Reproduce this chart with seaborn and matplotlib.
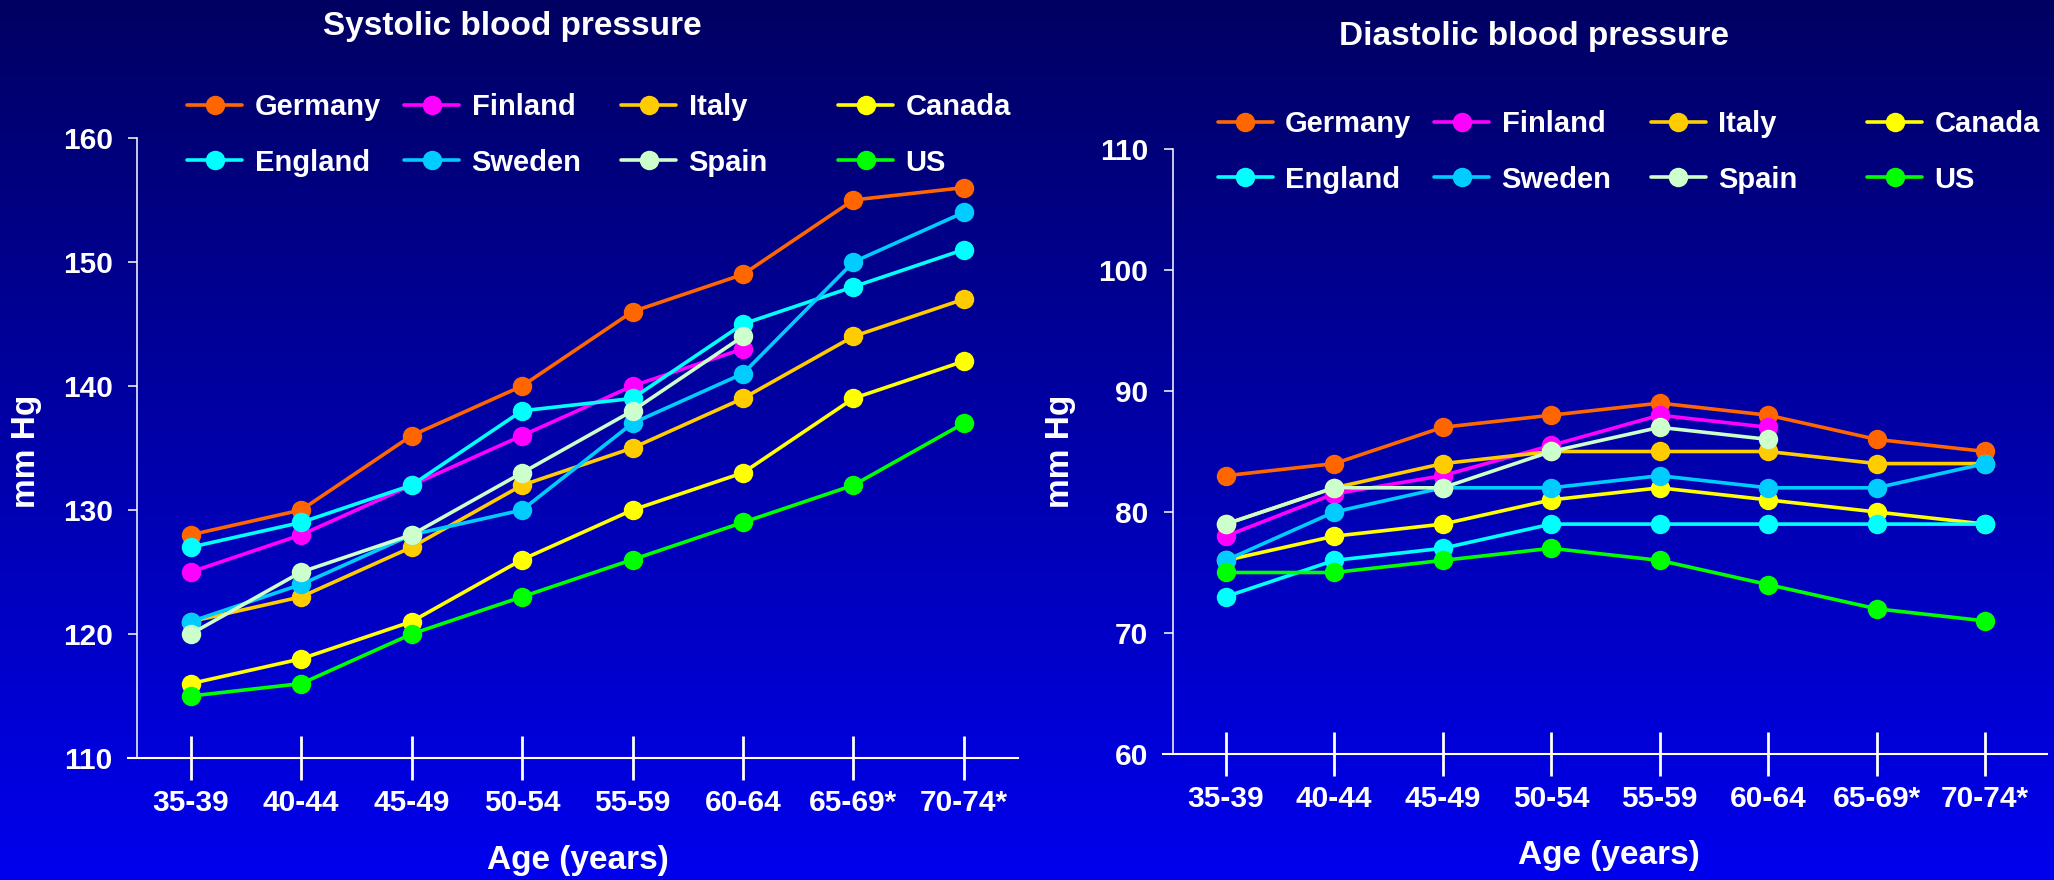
import numpy as np
import pandas as pd
import matplotlib
matplotlib.use("Agg")
import matplotlib.pyplot as plt
from matplotlib.colors import LinearSegmentedColormap
from matplotlib.lines import Line2D
import seaborn as sns

# ---------------------------------------------------------------- data
age_groups = ["35-39", "40-44", "45-49", "50-54", "55-59", "60-64", "65-69*", "70-74*"]
countries = ["Germany", "Finland", "Italy", "Canada", "England", "Sweden", "Spain", "US"]
country_colors = ["#FF6600", "#FF00FF", "#FFCC00", "#FFFF00",
                  "#00FFFF", "#00CCFF", "#CCFFCC", "#00FF00"]

# Systolic blood pressure (mm Hg); Finland and Spain stop at 60-64
sys_germany = [128, 130, 136, 140, 146, 149, 155, 156]
sys_finland = [125, 128, 132, 136, 140, 143]
sys_italy   = [121, 123, 127, 132, 135, 139, 144, 147]
sys_canada  = [116, 118, 121, 126, 130, 133, 139, 142]
sys_england = [127, 129, 132, 138, 139, 145, 148, 151]
sys_sweden  = [121, 124, 128, 130, 137, 141, 150, 154]
sys_spain   = [120, 125, 128, 133, 138, 144]
sys_us      = [115, 116, 120, 123, 126, 129, 132, 137]

# Diastolic blood pressure (mm Hg)
dia_germany = [83, 84, 87, 88, 89, 88, 86, 85]
dia_finland = [78, 81.5, 83, 85.5, 88, 87]
dia_italy   = [79, 82, 84, 85, 85, 85, 84, 84]
dia_canada  = [76, 78, 79, 81, 82, 81, 80, 79]
dia_england = [73, 76, 77, 79, 79, 79, 79, 79]
dia_sweden  = [76, 80, 82, 82, 83, 82, 82, 84]
dia_spain   = [79, 82, 82, 85, 87, 86]
dia_us      = [75, 75, 76, 77, 76, 74, 72, 71]

sys_ticks = [110, 120, 130, 140, 150, 160]
dia_ticks = [60, 70, 80, 90, 100, 110]

systolic = [sys_germany, sys_finland, sys_italy, sys_canada,
            sys_england, sys_sweden, sys_spain, sys_us]
diastolic = [dia_germany, dia_finland, dia_italy, dia_canada,
             dia_england, dia_sweden, dia_spain, dia_us]

# ---------------------------------------------------------------- style
sns.set_theme(style="ticks")
plt.rcParams["font.family"] = ["Liberation Sans", "DejaVu Sans"]
plt.rcParams["font.weight"] = "bold"
plt.rcParams["axes.labelweight"] = "bold"

W, H = 2054, 880
fig = plt.figure(figsize=(W / 100, H / 100), dpi=100)


def rect(left, top, right, bottom):
    return [left / W, 1 - bottom / H, (right - left) / W, (bottom - top) / H]


# vertical navy-to-blue backdrop
bg = fig.add_axes([0, 0, 1, 1], zorder=-10)
backdrop = LinearSegmentedColormap.from_list("backdrop", ["#000062", "#0000EE"])
bg.imshow(np.linspace(0, 1, 512).reshape(-1, 1), cmap=backdrop, aspect="auto",
          extent=[0, 1, 0, 1], origin="upper")
bg.set_axis_off()

LINE_W = 2.6
MARKER = 14
TICK_FS = 21.5
LEGEND_FS = 21


def long_frame(series):
    rows = []
    for country, vals in zip(countries, series):
        for age, v in zip(age_groups, vals):
            rows.append({"age": age, "mmHg": v, "country": country})
    return pd.DataFrame(rows)


def draw_panel(box, series, ylim, yticks, xlim, spine_x):
    ax = fig.add_axes(rect(*box))
    ax.set_facecolor("none")
    sns.lineplot(data=long_frame(series), x="age", y="mmHg", hue="country",
                 hue_order=countries, palette=country_colors, estimator=None,
                 errorbar=None, sort=False, marker="o", markersize=MARKER,
                 markeredgewidth=0, linewidth=LINE_W, legend=False, ax=ax)
    ax.set_xlim(*xlim)
    ax.set_ylim(*ylim)
    ax.set_yticks(yticks)
    ax.set_xlabel("")
    ax.set_ylabel("")
    for side in ("top", "right"):
        ax.spines[side].set_visible(False)
    ax.spines["left"].set_position(("data", spine_x))
    ax.spines["left"].set_color("white")
    ax.spines["left"].set_linewidth(1.1)
    ax.spines["bottom"].set_color("white")
    ax.spines["bottom"].set_linewidth(1.5)
    ax.tick_params(axis="y", direction="out", length=6.5, width=1.1,
                   colors="white", labelsize=TICK_FS, pad=11)
    ax.tick_params(axis="x", direction="inout", length=31, width=2,
                   colors="white", labelsize=TICK_FS, pad=7)
    for lab in ax.get_xticklabels() + ax.get_yticklabels():
        lab.set_fontweight("bold")
    return ax


ax_sys = draw_panel((128, 138, 1018, 758), systolic, (110, 160), sys_ticks,
                    (-0.568, 7.49), -0.486)
ax_dia = draw_panel((1163, 149, 2047, 754), diastolic, (60, 110), dia_ticks,
                    (-0.578, 7.57), -0.489)


def add_legend(first_line_x, col_step, center_y):
    # four columns of two rows: Germany/England, Finland/Sweden, Italy/Spain, Canada/US
    for col in range(4):
        idx = [col, col + 4]
        handles = [Line2D([], [], color=country_colors[i], lw=LINE_W, marker="o",
                          markersize=MARKER, markeredgewidth=0) for i in idx]
        leg = fig.legend(handles, [countries[i] for i in idx], loc="center left",
                         bbox_to_anchor=((first_line_x + col * col_step) / W, 1 - center_y / H),
                         frameon=False, handlelength=1.9, handletextpad=0.42,
                         labelspacing=0.93, borderpad=0, borderaxespad=0,
                         prop={"weight": "bold", "size": LEGEND_FS})
        for t in leg.get_texts():
            t.set_color("white")


add_legend(187, 217, 135)
add_legend(1217.5, 216.5, 152)

# titles and axis labels
fig.text(512 / W, 1 - 35 / H, "Systolic blood pressure", ha="center", va="baseline",
         color="white", fontsize=24, fontweight="bold")
fig.text(1534 / W, 1 - 45 / H, "Diastolic blood pressure", ha="center", va="baseline",
         color="white", fontsize=24, fontweight="bold")
fig.text(26 / W, 1 - 451 / H, "mm Hg", rotation=90, ha="center", va="center",
         color="white", fontsize=24, fontweight="bold")
fig.text(1061 / W, 1 - 451 / H, "mm Hg", rotation=90, ha="center", va="center",
         color="white", fontsize=24, fontweight="bold")
fig.text(578 / W, 1 - 860 / H, "Age (years)", ha="center", va="center",
         color="white", fontsize=24, fontweight="bold")
fig.text(1609 / W, 1 - 855 / H, "Age (years)", ha="center", va="center",
         color="white", fontsize=24, fontweight="bold")

fig.savefig("out.png", dpi=100)
